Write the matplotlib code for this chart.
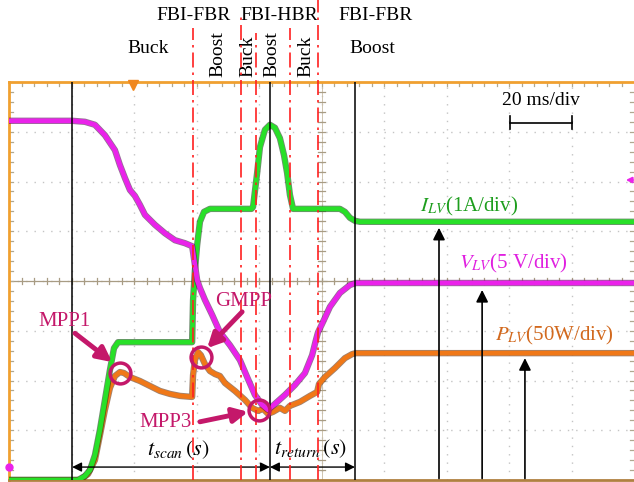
import numpy as np
from matplotlib import pyplot as plt
import matplotlib.patheffects as pe

plt.rcParams['font.family'] = ['Liberation Serif', 'DejaVu Serif']
plt.rcParams['mathtext.fontset'] = 'stix'

# time in ms (20 ms/div), amplitude in screen divisions (0 = bottom)
v_t = [0, 20.2, 24.3, 27.5, 30.7, 33.9, 35.5, 37.1, 38.7, 40.3, 41.9, 43.5,
       46.7, 49.9, 53.1, 56.3, 58.6, 58.9, 59.5, 60.2, 61.1, 62.7, 65.0,
       67.5, 70.7, 73.9, 76.2, 78.7, 81.0, 82.9, 85.1, 88.3, 91.5, 94.7,
       97.0, 98.2, 98.9, 100.2, 102.7, 105.9, 109.1, 111.0, 200]
v_lv = [7.22, 7.22, 7.20, 7.14, 6.93, 6.63, 6.33, 6.07, 5.83, 5.71, 5.53, 5.33,
        5.13, 4.96, 4.82, 4.76, 4.70, 4.58, 4.32, 4.02, 3.86, 3.62, 3.32,
        2.97, 2.71, 2.41, 2.07, 1.71, 1.51, 1.41, 1.53, 1.71, 1.91, 2.15,
        2.51, 2.81, 2.97, 3.14, 3.48, 3.76, 3.92, 3.96, 3.96]

i_t = [0, 22.1, 24.3, 25.9, 27.5, 29.1, 30.7, 32.3, 33.6, 34.9, 58.6, 58.9,
       59.5, 60.2, 61.1, 62.4, 64.3, 77.6, 78.1, 79.4, 80.3, 81.9, 83.5,
       85.1, 86.7, 88.0, 89.0, 89.9, 90.9, 105.9, 107.5, 109.1,
       110.7, 112.3, 200]
i_lv = [0, 0, 0.08, 0.20, 0.50, 1.01, 1.61, 2.21, 2.65, 2.77, 2.77, 3.62,
        4.22, 4.72, 5.19, 5.39, 5.45, 5.45, 5.49, 6.17, 6.69, 7.04, 7.14,
        7.08, 6.87, 6.53, 6.17, 5.73, 5.45, 5.45, 5.39, 5.27,
        5.21, 5.19, 5.19]

p_t = [0, 22.7, 25.3, 27.5, 29.1, 30.7, 32.3, 33.9, 35.5, 36.8, 38.7, 41.9,
       45.1, 48.3, 51.5, 54.7, 58.6, 58.9, 59.5, 60.5, 61.4, 62.7, 64.3,
       65.9, 67.5, 69.1, 72.3, 75.5, 77.8, 79.7, 81.3, 82.9, 84.5, 86.7,
       88.3, 89.9, 93.1, 96.3, 98.6, 99.2, 101.1, 104.3, 107.5, 109.8,
       111.0, 200]
p_lv = [0, 0, 0.12, 0.40, 0.90, 1.41, 1.85, 2.09, 2.17, 2.15, 2.07, 1.99,
        1.89, 1.79, 1.73, 1.69, 1.67, 2.11, 2.41, 2.57, 2.51, 2.33, 2.19,
        2.13, 2.09, 1.95, 1.79, 1.61, 1.45, 1.39, 1.43, 1.33, 1.37, 1.45,
        1.39, 1.49, 1.57, 1.69, 1.77, 1.93, 2.07, 2.25, 2.45, 2.53,
        2.55, 2.55]

# mode boundaries (red) and cursors (black), ms
mode_t = [58.9, 74.2, 79.0, 89.9, 98.9]
mode_top = [9.09, 9.35, 8.98, 9.09, 9.7]
cursor_t = [20.2, 83.5, 110.7]

mpp_names = ['MPP1', 'GMPP', 'MPP3']
mpp_t = [35.5, 61.4, 80.0]
mpp_v = [2.15, 2.47, 1.41]
mpp_text = [(17.9, 3.18), (75.2, 3.58), (50.2, 1.15)]
mpp_tail = [(21.1, 2.95), (74.6, 3.38), (61.1, 1.17)]
mpp_head = [(33.0, 2.37), (63.4, 2.65), (76.5, 1.37)]

C_GREEN = '#28e028'
C_MAG = '#ea22ea'
C_ORANGE = '#f07818'
C_PINK = '#c4186a'
C_RED = '#ff2020'

fig = plt.figure(figsize=(6.34, 4.82), dpi=100)
ax = fig.add_axes([9 / 634, 2 / 482, 625 / 634, 398 / 482])
ax.set_xlim(0, 200)
ax.set_ylim(0, 8)
ax.set_xticks([])
ax.set_yticks([])

# scope graticule
for gx in np.arange(20, 200, 20):
    ax.axvline(gx, color='#c4c4c4', lw=1.0, ls=(0, (1, 5)), zorder=0)
for gy in np.arange(1, 8):
    ax.axhline(gy, color='#c4c4c4', lw=1.0, ls=(0, (1, 5)), zorder=0)
ax.axhline(4, color='#a89c84', lw=0.9, zorder=0)
ax.axvline(100, color='#c8bca4', lw=0.6, zorder=0)
for tx in np.arange(4, 200, 4):
    ax.plot([tx, tx], [3.94, 4.06], color='#a89c84', lw=0.9, zorder=0)
    ax.plot([tx, tx], [7.92, 8.0], color='#b0a890', lw=0.9, zorder=0)
for ty in np.arange(0.2, 8, 0.2):
    ax.plot([99, 101], [ty, ty], color='#a89c84', lw=0.9, zorder=0)
    ax.plot([0, 1.2], [ty, ty], color='#b0a890', lw=0.9, zorder=0)
    ax.plot([198.6, 200], [ty, ty], color='#b0a890', lw=0.9, zorder=0)

for s in ['top', 'left']:
    ax.spines[s].set_color('#f0a030')
    ax.spines[s].set_linewidth(2)
ax.spines['bottom'].set_color('#b08040')
ax.spines['bottom'].set_linewidth(2)
ax.spines['right'].set_visible(False)

# traces
def trace(t, v, col, dark):
    ax.plot(t, v, color=col, lw=3.4, solid_joinstyle='round', zorder=3,
            path_effects=[pe.Stroke(linewidth=4.6, foreground=dark, alpha=0.6),
                          pe.Normal()])

trace(p_t, p_lv, C_ORANGE, '#603010')
trace(i_t, i_lv, C_GREEN, '#104010')
trace(v_t, v_lv, C_MAG, '#501050')

# cursors and mode boundaries
for ct in cursor_t:
    ax.plot([ct, ct], [0, 8], color='black', lw=1.1, zorder=4)
for mt, top in zip(mode_t, mode_top):
    ax.plot([mt, mt], [0, top], color=C_RED, lw=1.2,
            ls=(0, (9, 3, 1.5, 3)), zorder=4, clip_on=False)

# channel markers
ax.plot([39.7], [7.93], marker='v', color='#f08820', ms=7, zorder=5, clip_on=False)
ax.annotate('', xy=(196.5, 6.03), xytext=(200.5, 6.03),
            arrowprops=dict(arrowstyle='-|>', color=C_MAG, lw=1.5, mutation_scale=8),
            annotation_clip=False)
ax.plot([0], [0.26], marker='o', color=C_MAG, ms=5, zorder=5, clip_on=False)

# mode labels
kw = dict(fontsize=14, ha='center', va='center', clip_on=False)
ax.text(59.2, 9.33, 'FBI-FBR', **kw)
ax.text(86.6, 9.33, 'FBI-HBR', **kw)
ax.text(117.4, 9.33, 'FBI-FBR', **kw)
ax.text(44.5, 8.68, 'Buck', **kw)
ax.text(116.2, 8.68, 'Boost', **kw)
for xt, lab in zip([66.8, 76.6, 84.0, 95.0], ['Boost', 'Buck', 'Boost', 'Buck']):
    ax.text(xt, 8.1, lab, rotation=90, fontsize=14, ha='center', va='bottom',
            clip_on=False)

# time scale
ax.text(170.2, 7.62, '20 ms/div', fontsize=14, ha='center', va='center')
ax.plot([160.3, 180.2], [7.18, 7.18], color='black', lw=1.2)
for sx in [160.3, 180.2]:
    ax.plot([sx, sx], [7.05, 7.31], color='black', lw=1.2)

# MPP markers
for name, mt, mv, txy, tail, head in zip(mpp_names, mpp_t, mpp_v, mpp_text,
                                         mpp_tail, mpp_head):
    ax.plot([mt], [mv], marker='o', ms=15, mfc='none', mec=C_PINK, mew=2.5,
            zorder=6)
    ax.text(txy[0], txy[1], name, fontsize=15, color=C_PINK, ha='center',
            va='center', zorder=6)
    ax.annotate('', xy=head, xytext=tail, zorder=6,
                arrowprops=dict(arrowstyle='-|>', color=C_PINK, lw=3.5,
                                mutation_scale=22, shrinkA=0, shrinkB=0))

# channel labels and reference arrows
ax.text(147.2, 5.49, r'$I_{LV}$(1A/div)', fontsize=15, color='#1e9e1e',
        ha='center', va='center')
ax.text(161.3, 4.36, r'$V_{LV}$(5 V/div)', fontsize=15, color='#e020e0',
        ha='center', va='center')
ax.text(174.4, 2.91, r'$P_{LV}$(50W/div)', fontsize=15, color='#d2691e',
        ha='center', va='center')
for ax_t, tip in zip([137.6, 151.4, 165.1], [5.07, 3.82, 2.45]):
    ax.annotate('', xy=(ax_t, tip), xytext=(ax_t, 0.03),
                arrowprops=dict(arrowstyle='-|>', color='black', lw=1.2,
                                mutation_scale=18, shrinkA=0, shrinkB=0))

# scan / return intervals
ax.annotate('', xy=(cursor_t[0], 0.26), xytext=(cursor_t[1], 0.26),
            arrowprops=dict(arrowstyle='<|-|>', color='black', lw=1.0,
                            mutation_scale=14, shrinkA=0, shrinkB=0))
ax.annotate('', xy=(cursor_t[1], 0.26), xytext=(cursor_t[2], 0.26),
            arrowprops=dict(arrowstyle='<|-|>', color='black', lw=1.0,
                            mutation_scale=14, shrinkA=0, shrinkB=0))
ax.text(54.1, 0.6, r'$t_{scan}\,(s)$', fontsize=16, ha='center', va='center')
ax.text(96.5, 0.62, r'$t_{return}\,(s)$', fontsize=16, ha='center', va='center')

fig.savefig('out.png', dpi=100)
